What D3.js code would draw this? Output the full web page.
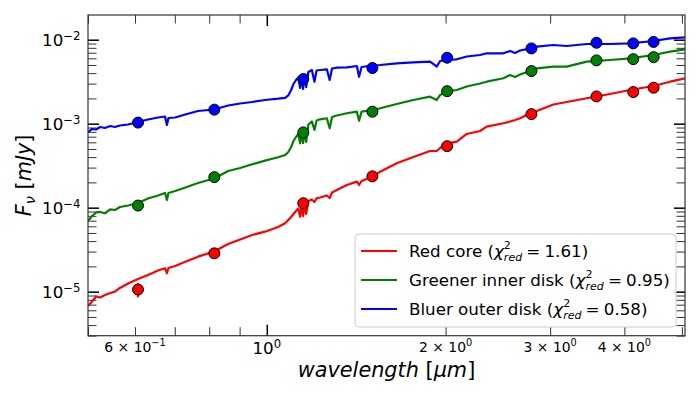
<!DOCTYPE html>
<html>
<head>
<meta charset="utf-8">
<script src="https://cdn.jsdelivr.net/npm/d3@7"></script>
<style>
  body { margin: 0; background: #fff; }
  svg text { font-family: 'DejaVu Sans', sans-serif; white-space: pre; fill: #000; }
</style>
</head>
<body>
<div id="chart"></div>
<script>
const WIDTH = 700, HEIGHT = 400;
const PLOT_LEFT = 88, PLOT_RIGHT = 685, PLOT_TOP = 15, PLOT_BOTTOM = 335.7;
const MAJOR_TICK = 11, MINOR_TICK = 8.5;

// model spectra, wavelength in micron, flux in mJy
const specWave = [0.500, 0.508, 0.516, 0.524, 0.534, 0.545, 0.555, 0.566, 0.584, 0.607,
    0.631, 0.656, 0.674, 0.679, 0.683, 0.701, 0.729, 0.766, 0.815, 0.861,
    0.902, 0.945, 0.993, 1.045, 1.074, 1.087, 1.099, 1.109, 1.120, 1.130,
    1.138, 1.144, 1.151, 1.158, 1.165, 1.175, 1.191, 1.203, 1.213, 1.230,
    1.262, 1.276, 1.288, 1.312, 1.364, 1.418, 1.430, 1.444, 1.508, 1.552,
    1.655, 1.765, 1.883, 1.933, 1.958, 2.009, 2.089, 2.171, 2.286, 2.346,
    2.502, 2.568, 2.618, 2.670, 2.775, 2.848, 3.037, 3.199, 3.457, 3.785,
    4.089, 4.476, 4.776, 5.062];

const specRed = [6.757e-6, 7.643e-6, 8.77e-6, 8.53e-6, 9.14e-6, 9.65e-6, 1.000e-5, 1.107e-5, 1.252e-5, 1.416e-5,
    1.580e-5, 1.788e-5, 1.899e-5, 1.656e-5, 1.915e-5, 2.023e-5, 2.276e-5, 2.610e-5, 3.010e-5, 3.698e-5,
    4.181e-5, 4.732e-5, 5.179e-5, 5.891e-5, 6.521e-5, 7.138e-5, 7.75e-5, 8.414e-5, 9.14e-5, 9.78e-5,
    7.81e-5, 1.019e-4, 7.96e-5, 1.077e-4, 8.414e-5, 1.202e-4, 1.252e-4, 1.169e-4, 1.294e-4, 1.323e-4,
    1.397e-4, 1.304e-4, 1.517e-4, 1.624e-4, 1.863e-4, 2.040e-4, 1.863e-4, 2.078e-4, 2.350e-4, 2.683e-4,
    3.378e-4, 4.014e-4, 4.732e-4, 4.732e-4, 5.137e-4, 5.809e-4, 6.105e-4, 7.540e-4, 8.187e-4, 9.21e-4,
    1.011e-3, 1.062e-3, 1.107e-3, 1.160e-3, 1.330e-3, 1.417e-3, 1.693e-3, 1.813e-3, 2.006e-3, 2.258e-3,
    2.519e-3, 2.811e-3, 3.162e-3, 3.471e-3];

const specGreen = [6.945e-5, 7.96e-5, 8.77e-5, 8.89e-5, 8.58e-5, 9.52e-5, 9.39e-5, 1.019e-4, 1.062e-4, 1.138e-4,
    1.287e-4, 1.397e-4, 1.496e-4, 1.235e-4, 1.496e-4, 1.580e-4, 1.739e-4, 1.968e-4, 2.227e-4, 2.735e-4,
    2.970e-4, 3.286e-4, 3.627e-4, 3.981e-4, 4.239e-4, 4.603e-4, 5.279e-4, 6.223e-4, 6.945e-4, 7.540e-4,
    5.843e-4, 7.855e-4, 5.891e-4, 8.187e-4, 6.055e-4, 9.78e-4, 1.062e-3, 8.414e-4, 1.092e-3, 1.128e-3,
    1.160e-3, 8.82e-4, 1.202e-3, 1.252e-3, 1.330e-3, 1.389e-3, 1.086e-3, 1.389e-3, 1.456e-3, 1.526e-3,
    1.716e-3, 1.915e-3, 2.096e-3, 1.915e-3, 2.196e-3, 2.404e-3, 2.519e-3, 2.773e-3, 3.010e-3, 3.162e-3,
    3.471e-3, 3.800e-3, 3.597e-3, 3.852e-3, 4.241e-3, 4.566e-3, 4.771e-3, 4.771e-3, 5.472e-3, 5.732e-3,
    6.005e-3, 6.575e-3, 7.197e-3, 7.686e-3];

const specBlue = [7.96e-4, 8.65e-4, 8.53e-4, 9.14e-4, 8.89e-4, 9.39e-4, 9.14e-4, 9.52e-4, 9.78e-4, 1.047e-3,
    1.122e-3, 1.185e-3, 1.218e-3, 9.65e-4, 1.169e-3, 1.185e-3, 1.287e-3, 1.417e-3, 1.476e-3, 1.647e-3,
    1.740e-3, 1.813e-3, 1.915e-3, 1.984e-3, 2.034e-3, 2.167e-3, 2.519e-3, 2.969e-3, 3.313e-3, 3.548e-3,
    2.661e-3, 3.698e-3, 2.589e-3, 3.800e-3, 2.735e-3, 4.125e-3, 4.358e-3, 3.162e-3, 4.299e-3, 4.358e-3,
    4.442e-3, 3.313e-3, 4.541e-3, 4.642e-3, 4.692e-3, 4.863e-3, 3.627e-3, 4.732e-3, 4.931e-3, 4.998e-3,
    5.236e-3, 5.383e-3, 5.472e-3, 4.797e-3, 5.577e-3, 5.732e-3, 5.843e-3, 6.310e-3, 6.575e-3, 6.888e-3,
    6.888e-3, 7.336e-3, 6.945e-3, 7.437e-3, 7.855e-3, 8.254e-3, 8.648e-3, 8.414e-3, 8.889e-3, 8.889e-3,
    9.060e-3, 9.650e-3, 1.039e-2, 1.068e-2];

// photometry
const photWave = [0.607, 0.816, 1.152, 1.506, 2.012, 2.79, 3.59, 4.14, 4.48];
const photRed = [1.06e-5, 2.86e-5, 1.13e-4, 2.36e-4, 5.4e-4, 1.30e-3, 2.11e-3, 2.38e-3, 2.68e-3];
const photRedErr = [0.20e-5, 0, 0, 0, 0, 0, 0, 0, 0];
const photGreen = [1.06e-4, 2.31e-4, 7.87e-4, 1.39e-3, 2.44e-3, 4.23e-3, 5.67e-3, 5.87e-3, 6.2e-3];
const photBlue = [1.03e-3, 1.47e-3, 3.40e-3, 4.6e-3, 6.1e-3, 7.87e-3, 9.2e-3, 9.04e-3, 9.4e-3];

const seriesNames = ['Red core', 'Greener inner disk', 'Bluer outer disk'];
const seriesChi2 = ['1.61', '0.95', '0.58'];
const seriesColors = ['#ff0000', '#008000', '#0000ff'];

const xMajorTicks = [1];
const xMinorTicks = [0.5, 0.6, 0.7, 0.8, 0.9, 2, 3, 4, 5];
const xLabelTicks = [0.6, 1, 2, 3, 4];
const xTickLabels = [['6 × 10', '−1'], ['10', '0'], ['2 × 10', '0'], ['3 × 10', '0'], ['4 × 10', '0']];
const yMajorTicks = [1e-5, 1e-4, 1e-3, 1e-2];
const yTickLabels = [['10', '−5'], ['10', '−4'], ['10', '−3'], ['10', '−2']];

const x = d3.scaleLog().domain([0.5, 5.06]).range([PLOT_LEFT, PLOT_RIGHT]);
const y = d3.scaleLog().domain([2.99e-6, 0.01968]).range([PLOT_BOTTOM, PLOT_TOP]);

const yMinorTicks = [];
[1e-6, 1e-5, 1e-4, 1e-3, 1e-2].forEach(dec => {
    for (let k = 2; k <= 9; k++) {
        const v = dec * k;
        if (v >= y.domain()[0] && v <= y.domain()[1]) yMinorTicks.push(v);
    }
});

const svg = d3.select('#chart').append('svg')
    .attr('width', WIDTH)
    .attr('height', HEIGHT);

// run of text pieces, sup/sub stacked at the same x
function runText(parent, px, py, parts, anchor) {
    const g = parent.append('g').attr('transform', `translate(${px},${py})`);
    let cx = 0;
    parts.forEach(p => {
        const items = p.stack || [p];
        let w = 0;
        items.forEach(q => {
            const t = g.append('text')
                .attr('x', cx)
                .attr('y', q.dy || 0)
                .style('font-size', (q.s || p.s) + 'px')
                .style('font-style', (q.it || p.it) ? 'italic' : 'normal')
                .text(q.t);
            w = Math.max(w, t.node().getComputedTextLength());
        });
        cx += w;
    });
    let shift = 0;
    if (anchor === 'end') shift = -cx;
    if (anchor === 'middle') shift = -cx / 2;
    g.selectAll('text').attr('x', function() { return +this.getAttribute('x') + shift; });
    return g;
}

svg.append('clipPath').attr('id', 'plot-clip')
    .append('rect')
    .attr('x', PLOT_LEFT).attr('y', PLOT_TOP)
    .attr('width', PLOT_RIGHT - PLOT_LEFT).attr('height', PLOT_BOTTOM - PLOT_TOP);

// ticks, all pointing inward
function tickAxis(axisFn, values, size, transform, cls) {
    const g = svg.append('g')
        .attr('class', cls)
        .attr('transform', transform)
        .call(axisFn.tickValues(values).tickSize(-size).tickFormat(() => ''));
    g.select('.domain').remove();
    g.selectAll('.tick line')
        .attr('stroke', cls === 'major' ? '#000' : '#333')
        .attr('stroke-width', cls === 'major' ? 1.5 : 1);
    return g;
}

tickAxis(d3.axisBottom(x), xMinorTicks, MINOR_TICK, `translate(0,${PLOT_BOTTOM})`, 'minor');
tickAxis(d3.axisBottom(x), xMajorTicks, MAJOR_TICK, `translate(0,${PLOT_BOTTOM})`, 'major');
tickAxis(d3.axisTop(x), xMinorTicks, MINOR_TICK, `translate(0,${PLOT_TOP})`, 'minor');
tickAxis(d3.axisTop(x), xMajorTicks, MAJOR_TICK, `translate(0,${PLOT_TOP})`, 'major');
tickAxis(d3.axisLeft(y), yMinorTicks, MINOR_TICK, `translate(${PLOT_LEFT},0)`, 'minor');
tickAxis(d3.axisLeft(y), yMajorTicks, MAJOR_TICK, `translate(${PLOT_LEFT},0)`, 'major');
tickAxis(d3.axisRight(y), yMinorTicks, MINOR_TICK, `translate(${PLOT_RIGHT},0)`, 'minor');
tickAxis(d3.axisRight(y), yMajorTicks, MAJOR_TICK, `translate(${PLOT_RIGHT},0)`, 'major');

// tick labels
const labels = svg.append('g');
xLabelTicks.forEach((v, i) => {
    const major = xMajorTicks.includes(v);
    const s = major ? 16.7 : 13.9;
    runText(labels, x(v), PLOT_BOTTOM + (major ? 18.3 : 16), [
        {t: xTickLabels[i][0], s: s},
        {t: xTickLabels[i][1], s: s * 0.7, dy: -s * 0.38}
    ], 'middle');
});
yMajorTicks.forEach((v, i) => {
    runText(labels, PLOT_LEFT - 7.5, y(v) + 6, [
        {t: yTickLabels[i][0], s: 16.7},
        {t: yTickLabels[i][1], s: 11.7, dy: -6}
    ], 'end');
});

// axis titles
runText(svg, (PLOT_LEFT + PLOT_RIGHT) / 2, 377, [
    {t: 'wavelength', s: 20.8, it: true},
    {t: ' [', s: 20.8},
    {t: 'μm', s: 20.8, it: true},
    {t: ']', s: 20.8}
], 'middle');

const yTitle = svg.append('g')
    .attr('transform', `translate(31,${(PLOT_TOP + PLOT_BOTTOM) / 2}) rotate(-90)`);
runText(yTitle, 0, 0, [
    {t: 'F', s: 20.8, it: true},
    {t: 'ν', s: 14.6, it: true, dy: 4},
    {t: ' [', s: 20.8},
    {t: 'mJy', s: 20.8, it: true},
    {t: ']', s: 20.8}
], 'middle');

// spectra
const plot = svg.append('g').attr('clip-path', 'url(#plot-clip)');
const line = d3.line()
    .x(d => x(d[0]))
    .y(d => y(d[1]));

[specRed, specGreen, specBlue].forEach((flux, i) => {
    plot.append('path')
        .datum(specWave.map((w, j) => [w, flux[j]]))
        .attr('fill', 'none')
        .attr('stroke', seriesColors[i])
        .attr('stroke-width', 2.2)
        .attr('stroke-linejoin', 'round')
        .attr('d', line);
});

// error bars then markers
photWave.forEach((w, j) => {
    if (photRedErr[j] > 0) {
        plot.append('line')
            .attr('x1', x(w)).attr('x2', x(w))
            .attr('y1', y(photRed[j] - photRedErr[j]))
            .attr('y2', y(photRed[j] + photRedErr[j]))
            .attr('stroke', seriesColors[0])
            .attr('stroke-width', 2);
    }
});

[photRed, photGreen, photBlue].forEach((flux, i) => {
    plot.selectAll(null)
        .data(photWave.map((w, j) => [w, flux[j]]))
        .enter().append('circle')
            .attr('cx', d => x(d[0]))
            .attr('cy', d => y(d[1]))
            .attr('r', 5.5)
            .attr('fill', seriesColors[i])
            .attr('stroke', '#000')
            .attr('stroke-width', 1);
});

// frame
svg.append('rect')
    .attr('x', PLOT_LEFT).attr('y', PLOT_TOP)
    .attr('width', PLOT_RIGHT - PLOT_LEFT).attr('height', PLOT_BOTTOM - PLOT_TOP)
    .attr('fill', 'none')
    .attr('stroke', '#333')
    .attr('stroke-width', 1.2);

// legend
const legend = svg.append('g');
legend.append('rect')
    .attr('x', 355).attr('y', 234)
    .attr('width', 321).attr('height', 93)
    .attr('rx', 4)
    .attr('fill', '#fff')
    .attr('fill-opacity', 0.8)
    .attr('stroke', '#cccccc')
    .attr('stroke-width', 1);

seriesNames.forEach((name, i) => {
    const ly = 251 + i * 29;
    legend.append('line')
        .attr('x1', 361).attr('x2', 397)
        .attr('y1', ly).attr('y2', ly)
        .attr('stroke', seriesColors[i])
        .attr('stroke-width', 2);
    runText(legend, 409, ly + 6, [
        {t: name + ' (', s: 16.7},
        {t: 'χ', s: 16.7, it: true},
        {s: 11, stack: [{t: '2', dy: -8}, {t: 'red', dy: 4, it: true}]},
        {t: '\u2005=\u2005' + seriesChi2[i], s: 16.7},
        {t: ')', s: 16.7}
    ], 'start');
});
</script>
</body>
</html>
